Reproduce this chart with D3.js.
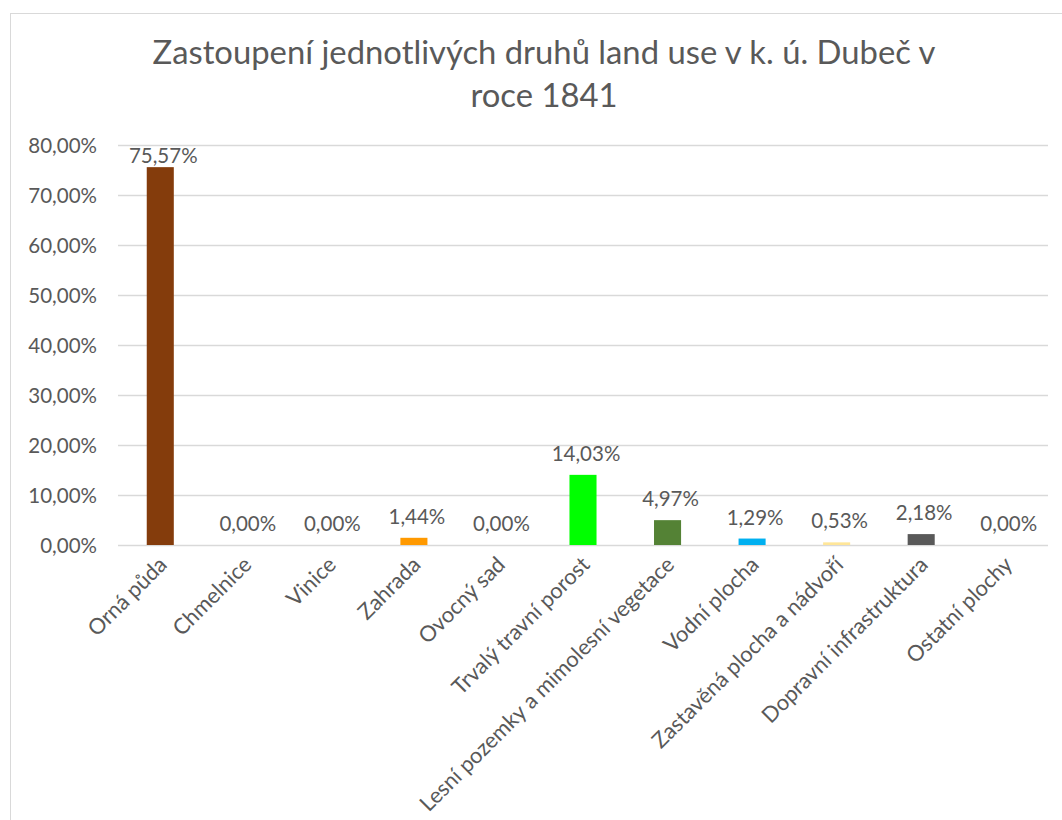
<!DOCTYPE html>
<html><head><meta charset="utf-8">
<script src="https://cdn.jsdelivr.net/npm/d3@7"></script>
<style>body{margin:0;background:#fff}svg{display:block}</style>
</head><body>
<svg id="c" width="1062" height="820"></svg>
<script>
const categories = ["Orná půda","Chmelnice","Vinice","Zahrada","Ovocný sad","Trvalý travní porost","Lesní pozemky a mimolesní vegetace","Vodní plocha","Zastavěná plocha a nádvoří","Dopravní infrastruktura","Ostatní plochy"];
const values = [75.57, 0, 0, 1.44, 0, 14.03, 4.97, 1.29, 0.53, 2.18, 0];
const colors = ["#843C0C","#843C0C","#843C0C","#FF9900","#843C0C","#00FF00","#548235","#00B0F0","#FFE699","#595959","#843C0C"];
const yTicks = [0,10,20,30,40,50,60,70,80];
const titleLines = ["Zastoupení jednotlivých druhů land use v k. ú. Dubeč v","roce 1841"];

const svg = d3.select("#c");
const FONT = "Lato, 'Open Sans', sans-serif";
const txt = "#595959";
svg.append("rect").attr("x",10.5).attr("y",13.5).attr("width",1100).attr("height",900)
  .attr("fill","#fff").attr("stroke","#d9d9d9");

const m = {l:118, r:1048, t:145, b:545};
const x = d3.scaleBand().domain(categories).range([m.l,m.r]).paddingInner(0.68).paddingOuter(0.34);
const y = d3.scaleLinear().domain([0,80]).range([m.b,m.t]);
const fmt = v => d3.format(".2f")(v).replace(".",",") + "%";

// gridlines
svg.append("g").selectAll("line").data(yTicks).join("line")
  .attr("x1",m.l).attr("x2",m.r).attr("y1",d=>y(d)+0.5).attr("y2",d=>y(d)+0.5)
  .attr("stroke","#d9d9d9").attr("stroke-width",1.3);

// y axis labels
const ya = svg.append("g").attr("transform",`translate(${m.l-18},0)`)
  .call(d3.axisLeft(y).tickValues(yTicks).tickFormat(d=>d3.format(".2f")(d).replace(".",",")+"%").tickSize(0));
ya.select(".domain").remove();
ya.selectAll("text").attr("font-family",FONT).attr("font-size",20.5).attr("fill",txt).attr("dy","0.35em");

// bars
svg.append("g").selectAll("rect").data(values).join("rect")
  .attr("x",(d,i)=>x(categories[i])).attr("width",x.bandwidth())
  .attr("y",d=>y(d)).attr("height",d=>y(0)-y(d))
  .attr("fill",(d,i)=>colors[i]);

// data labels
svg.append("g").selectAll("text").data(values).join("text")
  .attr("x",(d,i)=>x(categories[i])+x.bandwidth()/2+3)
  .attr("y",d=>Math.max(y(d)-14, m.t+18))
  .attr("text-anchor","middle").attr("font-family",FONT).attr("font-size",20.5).attr("fill",txt)
  .text(d=>fmt(d));

// x axis labels
const xa = svg.append("g").attr("transform",`translate(0,${m.b})`)
  .call(d3.axisBottom(x).tickSize(0));
xa.select(".domain").remove();
xa.selectAll("text").attr("font-family",FONT).attr("font-size",21.8).attr("fill",txt)
  .attr("text-anchor","end").attr("dy",0)
  .attr("transform","translate(8,21) rotate(-45)").attr("y",0).attr("x",0);

// title
const tg = svg.append("g");
titleLines.forEach((t,i)=>{
  tg.append("text").attr("x",544).attr("y",64+i*43).attr("text-anchor","middle")
    .attr("font-family",FONT).attr("font-size",32.8).attr("fill",txt).text(t);
});
</script>
</body></html>
